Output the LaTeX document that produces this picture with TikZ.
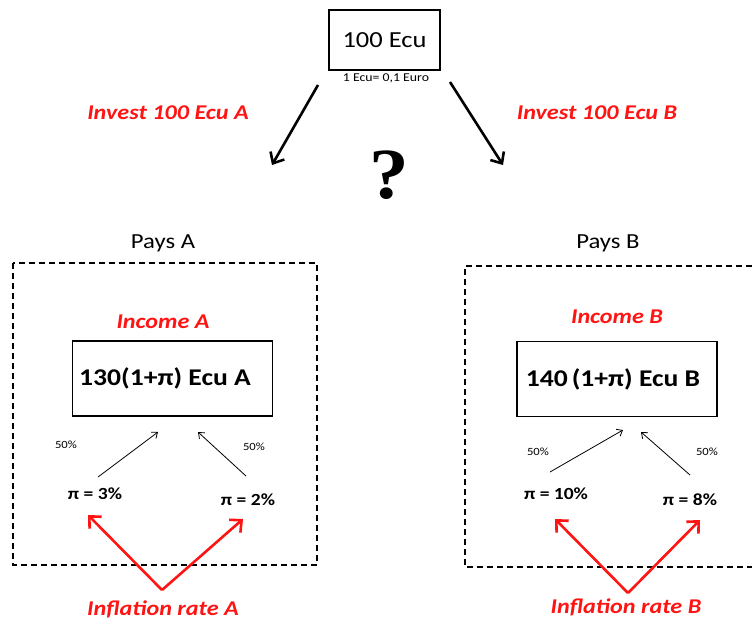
\documentclass[tikz,border=0pt]{standalone}
\usepackage{fontspec}
\setmainfont{Carlito}[FakeStretch=1.15]
\newfontfamily\qfont{Liberation Serif}[FakeStretch=1.1]
\usetikzlibrary{arrows.meta}
\definecolor{myred}{RGB}{255,20,20}
\begin{document}
\begin{tikzpicture}[x=1pt,y=-1pt,
  redlab/.style={text=myred,font=\fontsize{21}{23}\selectfont\bfseries\itshape},
  valbox/.style={draw,line width=1.2pt,minimum width=200pt,minimum height=75pt,font=\fontsize{24}{26}\selectfont\bfseries},
  pilab/.style={font=\fontsize{17}{19}\selectfont\bfseries},
  pct/.style={font=\fontsize{11}{12}\selectfont},
  payslab/.style={font=\fontsize{21.5}{23}\selectfont},
  bigarrow/.style={line width=2.6pt,-{Straight Barb[length=9pt,width=16pt,line width=2.6pt]}},
  redarrow/.style={myred,line width=2.6pt,-{Straight Barb[length=9pt,width=17pt,line width=2.6pt]}},
  smallarrow/.style={line width=0.8pt,-{Straight Barb[length=5pt,width=8pt]}},
  frame/.style={line width=1.3pt,dash pattern=on 6pt off 4pt}]
\useasboundingbox (0,0) rectangle (752,626);
% top
\node[draw,line width=1.2pt,minimum width=111pt,minimum height=60pt,font=\fontsize{23}{25}\selectfont] (top) at (384.5,40) {100 Ecu};
\node[font=\fontsize{12}{13}\selectfont] (rate) at (386,78) {1 Ecu= 0,1 Euro};
\node[redlab] (invA) at (168,113) {Invest 100 Ecu A};
\node[redlab] (invB) at (597,113) {Invest 100 Ecu B};
\node[font=\fontsize{72}{74}\selectfont\qfont\bfseries] (q) at (389,175) {?};
\coordinate (a1s) at (318,85); \coordinate (a1e) at (272,165);
\coordinate (a2s) at (450,82); \coordinate (a2e) at (503,165);
\draw[bigarrow] (a1s) -- (a1e);
\draw[bigarrow] (a2s) -- (a2e);
% frames
\node[payslab] (paysA) at (163,243) {Pays A};
\node[payslab] (paysB) at (608,243) {Pays B};
\draw[frame] (13,263) rectangle (317,565);
\draw[frame] (752,266) -- (465,266) -- (465,567) -- (752,567);
% A
\node[redlab] (incA) at (163,322) {Income A};
\node[valbox] (boxA) at (172.5,378.5) {\hspace*{-15pt}130(1+π) Ecu A};
\node[pct] (pA1) at (66,445) {50\%};
\node[pct] (pA2) at (254,447) {50\%};
\node[pilab] (p3) at (95,494) {π = 3\%};
\node[pilab] (p2) at (248,500) {π = 2\%};
\coordinate (sa1) at (98,477); \coordinate (ea1) at (158,432);
\coordinate (sa2) at (246,476); \coordinate (ea2) at (198,432);
\draw[smallarrow] (sa1) -- (ea1);
\draw[smallarrow] (sa2) -- (ea2);
\node[redlab] (infA) at (163,609) {Inflation rate A};
\coordinate (vA) at (162,590);
\draw[redarrow] (vA) -- (88,515);
\draw[redarrow] (vA) -- (243,519);
% B
\node[redlab] (incB) at (617,317) {Income B};
\node[valbox] (boxB) at (617,379) {\hspace*{-8pt}140\,(1+π) Ecu B};
\node[pct] (pB1) at (538,452) {50\%};
\node[pct] (pB2) at (707,452) {50\%};
\node[pilab] (p10) at (556,494) {π = 10\%};
\node[pilab] (p8) at (690,500) {π = 8\%};
\coordinate (sb1) at (550,472); \coordinate (eb1) at (623,430);
\coordinate (sb2) at (690,475); \coordinate (eb2) at (641,432);
\draw[smallarrow] (sb1) -- (eb1);
\draw[smallarrow] (sb2) -- (eb2);
\node[redlab] (infB) at (626,607) {Inflation rate B};
\coordinate (vB) at (628,593);
\draw[redarrow] (vB) -- (555,519);
\draw[redarrow] (vB) -- (700,520);
\end{tikzpicture}
\end{document}
